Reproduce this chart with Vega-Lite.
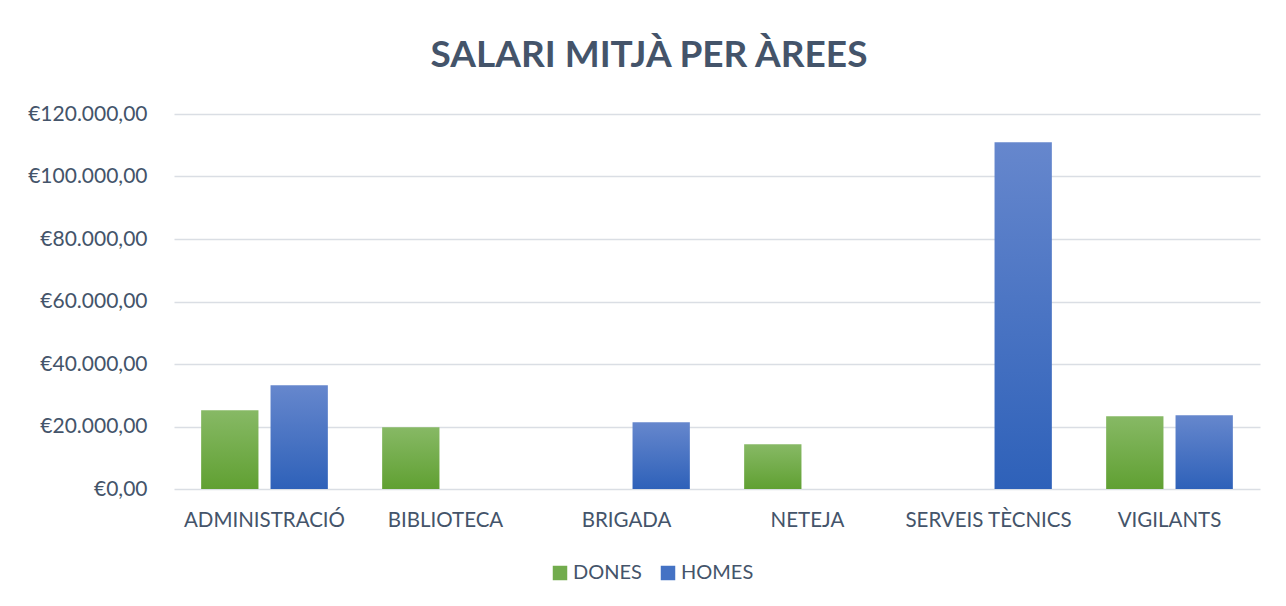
{
  "$schema": "https://vega.github.io/schema/vega-lite/v6.json",
  "autosize": {"type": "none"},
  "width": 1086,
  "height": 375,
  "padding": {"left": 174, "top": 114, "right": 26, "bottom": 117},
  "background": "white",
  "title": {
    "text": "SALARI MITJÀ PER ÀREES",
    "font": "Lato",
    "fontSize": 37,
    "fontWeight": "bold",
    "color": "#44546a",
    "anchor": "middle",
    "dx": -68,
    "offset": 28
  },
  "data": {
    "values": [
      {"area": "ADMINISTRACIÓ", "sexe": "DONES", "salari": 25200},
      {"area": "ADMINISTRACIÓ", "sexe": "HOMES", "salari": 33200},
      {"area": "BIBLIOTECA", "sexe": "DONES", "salari": 19800},
      {"area": "BRIGADA", "sexe": "HOMES", "salari": 21400},
      {"area": "NETEJA", "sexe": "DONES", "salari": 14300},
      {"area": "SERVEIS TÈCNICS", "sexe": "HOMES", "salari": 111000},
      {"area": "VIGILANTS", "sexe": "DONES", "salari": 23300},
      {"area": "VIGILANTS", "sexe": "HOMES", "salari": 23600}
    ]
  },
  "encoding": {
    "x": {
      "field": "area",
      "type": "nominal",
      "sort": null,
      "scale": {"paddingInner": 0.30, "paddingOuter": 0.15},
      "axis": {
        "title": null,
        "labelAngle": 0,
        "domain": false,
        "ticks": false,
        "labelPadding": 21,
        "labelFont": "Lato",
        "labelFontSize": 20.5,
        "labelColor": "#44546a"
      }
    },
    "xOffset": {
      "field": "sexe",
      "type": "nominal",
      "scale": {"domain": ["DONES", "HOMES"], "paddingInner": 0.174}
    },
    "y": {
      "field": "salari",
      "type": "quantitative",
      "scale": {"domain": [0, 120000], "nice": false},
      "axis": {
        "title": null,
        "values": [0, 20000, 40000, 60000, 80000, 100000, 120000],
        "format": "$,.2f",
        "domain": false,
        "ticks": false,
        "labelPadding": 27,
        "labelFont": "Lato",
        "labelFontSize": 21,
        "labelColor": "#44546a",
        "gridColor": "#dadee4",
        "gridWidth": 1.6
      }
    }
  },
  "layer": [
    {
      "mark": {"type": "bar"},
      "encoding": {
        "fill": {
          "condition": {
            "test": "datum.sexe === 'DONES'",
            "value": {"gradient": "linear", "x1": 0, "y1": 0, "x2": 0, "y2": 1,
              "stops": [{"offset": 0, "color": "#87b965"}, {"offset": 1, "color": "#60a032"}]}
          },
          "value": {"gradient": "linear", "x1": 0, "y1": 0, "x2": 0, "y2": 1,
            "stops": [{"offset": 0, "color": "#6687cd"}, {"offset": 1, "color": "#2e61b9"}]}
        }
      }
    },
    {
      "mark": {"type": "point", "filled": true, "size": 0, "opacity": 0},
      "encoding": {
        "color": {
          "field": "sexe",
          "type": "nominal",
          "scale": {"domain": ["DONES", "HOMES"], "range": ["#72ac4d", "#4472c4"]},
          "legend": {
            "title": null,
            "orient": "none",
            "direction": "horizontal",
            "legendX": 376,
            "legendY": 449,
            "symbolType": "square",
            "symbolSize": 210,
            "symbolOpacity": 1,
            "symbolStrokeWidth": 0,
            "labelFont": "Lato",
            "labelFontSize": 20,
            "labelColor": "#44546a",
            "labelOffset": 3,
            "columnPadding": 16
          }
        }
      }
    }
  ],
  "config": {
    "locale": {
      "number": {
        "decimal": ",",
        "thousands": ".",
        "grouping": [3],
        "currency": ["€", ""]
      }
    },
    "view": {"stroke": null}
  }
}
